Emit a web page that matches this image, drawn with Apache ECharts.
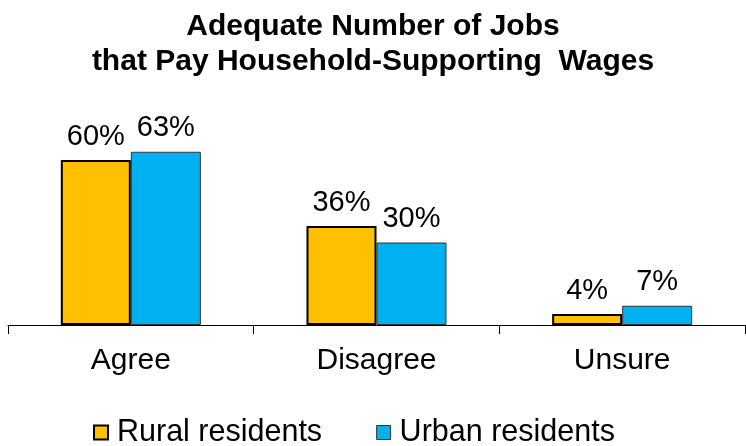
<!DOCTYPE html>
<html>
<head>
<meta charset="utf-8">
<script src="https://cdn.jsdelivr.net/npm/echarts@6/dist/echarts.min.js"></script>
<style>
  html, body { margin: 0; padding: 0; background: #fff; }
  #chart { width: 746px; height: 446px; }
</style>
</head>
<body>
<div id="chart"></div>
<script>
// Survey responses: adequate number of jobs paying household-supporting wages
var categories = ['Agree', 'Disagree', 'Unsure'];
var seriesNames = ['Rural residents', 'Urban residents'];
var ruralValues = [60, 36, 4];
var urbanValues = [63, 30, 7];

var FONT = '"Liberation Sans", Arial, sans-serif';

var chart = echarts.init(document.getElementById('chart'), null, { renderer: 'canvas' });

var labelStyle = {
  show: true,
  position: 'top',
  distance: 9,
  formatter: '{c}%',
  fontFamily: FONT,
  fontSize: 29,
  color: '#000'
};

chart.setOption({
  animation: false,
  backgroundColor: '#fff',
  title: {
    text: 'Adequate Number of Jobs\nthat Pay Household-Supporting  Wages',
    left: 'center',
    top: 4,
    textStyle: {
      fontFamily: FONT,
      fontWeight: 'bold',
      fontSize: 30,
      lineHeight: 35,
      color: '#000'
    }
  },
  legend: {
    top: 412,
    left: 88,
    itemWidth: 14,
    itemHeight: 14,
    itemGap: 54,
    textStyle: { fontFamily: FONT, fontSize: 30.5, color: '#000', padding: [0, 0, 0, 4] },
    data: [
      { name: seriesNames[0], icon: 'rect', itemStyle: { color: '#FFC000', borderColor: '#000', borderWidth: 2 } },
      { name: seriesNames[1], icon: 'rect', itemStyle: { color: '#00B0F0', borderColor: '#333', borderWidth: 1 } }
    ]
  },
  grid: { left: 8, right: 1, top: 50, bottom: 121, containLabel: false },
  xAxis: {
    type: 'category',
    data: categories,
    axisLine: { lineStyle: { color: '#000', width: 1 } },
    axisTick: { show: true, length: 9, lineStyle: { color: '#000' } },
    axisLabel: { fontFamily: FONT, fontSize: 30, color: '#000', margin: 21 }
  },
  yAxis: {
    type: 'value',
    min: 0,
    max: 100,
    show: false,
    splitLine: { show: false }
  },
  series: [
    {
      name: seriesNames[0],
      type: 'bar',
      data: ruralValues,
      barGap: '0%',
      barCategoryGap: '43%',
      itemStyle: { color: '#FFC000', borderColor: '#000', borderWidth: 2 },
      label: labelStyle
    },
    {
      name: seriesNames[1],
      type: 'bar',
      data: urbanValues,
      itemStyle: { color: '#00B0F0', borderColor: '#333', borderWidth: 1 },
      label: labelStyle
    }
  ]
});
</script>
</body>
</html>
